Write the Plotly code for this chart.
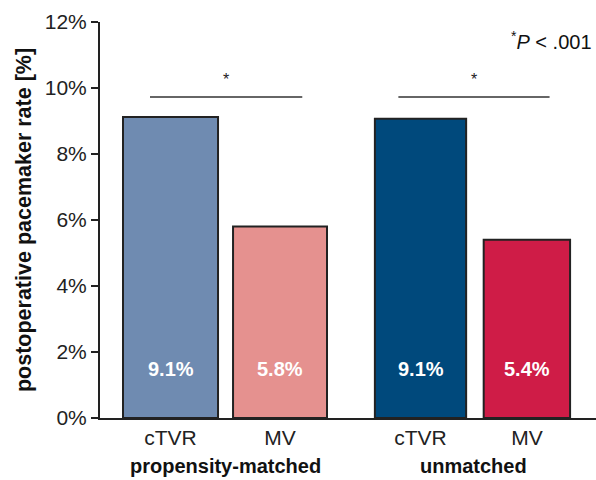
import plotly.graph_objects as go

categories = ["cTVR", "MV", "cTVR", "MV"]
groups = ["propensity-matched", "unmatched"]
values = [9.12, 5.8, 9.07, 5.4]
labels = ["9.1%", "5.8%", "9.1%", "5.4%"]
positions = [0, 1.014, 2.315, 3.30]
bar_widths = [0.88, 0.87, 0.845, 0.80]
colors = ["#6f8bb1", "#e5918f", "#00497c", "#cf1c47"]
yticks = [0, 2, 4, 6, 8, 10, 12]

font = "Liberation Sans, Arial, sans-serif"
fig = go.Figure()
fig.add_trace(go.Bar(
    x=positions, y=values, width=bar_widths,
    marker=dict(color=colors, line=dict(color="#222222", width=2)),
    hoverinfo="skip",
))

for xp, lab in zip(positions, labels):
    fig.add_annotation(x=xp, y=1.5, text="<b>%s</b>" % lab, showarrow=False,
                       font=dict(family=font, size=20, color="white"))

# significance brackets
for (x0, x1) in [(-0.19, 1.22), (2.11, 3.51)]:
    fig.add_shape(type="line", x0=x0, x1=x1, y0=9.73, y1=9.73,
                  line=dict(color="#333333", width=1.5))
    fig.add_annotation(x=(x0 + x1) / 2, y=10.25, text="*", showarrow=False,
                       font=dict(family=font, size=16, color="#222222"))

for g, xc in zip(groups, [(positions[0] + positions[1]) / 2, (positions[2] + positions[3]) / 2]):
    fig.add_annotation(x=xc, y=0, yref="y", text="<b>%s</b>" % g, showarrow=False,
                       yshift=-48, font=dict(family=font, size=20, color="#111111"))

fig.add_annotation(x=0.995, y=0.99, xref="paper", yref="paper", xanchor="right",
                   text="<sup>*</sup><i>P</i> < .001", showarrow=False,
                   font=dict(family=font, size=20, color="#111111"))

fig.update_layout(
    width=596, height=480,
    margin=dict(l=100, r=0, t=22, b=62),
    plot_bgcolor="white", paper_bgcolor="white",
    showlegend=False,
    font=dict(family=font, color="#222222"),
    xaxis=dict(range=[-0.653, 3.94], tickvals=positions, ticktext=categories,
               showline=True, linecolor="#222222", linewidth=2, ticks="",
               showgrid=False, zeroline=False, tickfont=dict(size=21)),
    yaxis=dict(range=[0, 12], tickvals=yticks, ticktext=["%d%%" % v for v in yticks],
               showline=True, linecolor="#222222", linewidth=2, ticks="outside",
               ticklen=7, tickwidth=1.5, tickcolor="#222222", showgrid=False,
               zeroline=False, tickfont=dict(size=21),
               title=dict(text="<b>postoperative pacemaker rate [%]</b>",
                          font=dict(size=21.5, color="#111111"), standoff=7)),
)

fig.write_html("out.html", config={"displayModeBar": False})
with open("out.html", "r", encoding="utf-8") as f:
    html = f.read()
html = html.replace("<head>", "<head><style>html,body{margin:0;padding:0;overflow:hidden}</style>", 1)
with open("out.html", "w", encoding="utf-8") as f:
    f.write(html)
